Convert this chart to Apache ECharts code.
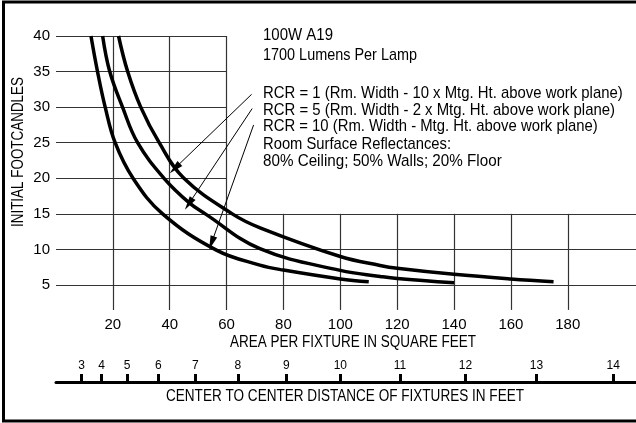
<!DOCTYPE html>
<html>
<head>
<meta charset="utf-8">
<script src="https://cdn.jsdelivr.net/npm/echarts@6/dist/echarts.min.js"></script>
<style>html,body{margin:0;padding:0;background:#fff;}#c{width:636px;height:423px;}</style>
</head>
<body>
<div id="c"></div>
<script>
// ---- data ----
var areaTicks = [20, 40, 60, 80, 100, 120, 140, 160, 180];
var fcTicks = [5, 10, 15, 20, 25, 30, 35, 40];
var distanceTicks = [3, 4, 5, 6, 7, 8, 9, 10, 11, 12, 13, 14];
var hGridFull = [5, 10, 15];
var hGridShort = [20, 25, 30, 35, 40];
var vGridTall = [20, 40, 60];
var vGridShort = [80, 100, 120, 140, 160, 180];

var rcr1 = [[22,40],[25.2,35],[29.8,30],[36.3,25],[45,20],[62,15],[72,13],[100,9.0],[114,7.75],[120,7.35],[140,6.5],[160,5.85],[175,5.47]];
var rcr5 = [[16.4,40],[18.9,35],[23.4,30],[28.7,25],[38,20],[47,16.5],[52.5,15],[71.7,10.1],[100,7.05],[114,6.2],[120,5.9],[140,5.3]];
var rcr10 = [[12.3,40],[14.6,35],[17.3,30],[20.8,25],[27.1,20],[37.5,15],[56.4,9.9],[71.7,7.8],[80,7.1],[100,5.85],[110,5.45]];

var notes = [
  '100W A19',
  '1700 Lumens Per Lamp',
  'RCR = 1 (Rm. Width - 10 x Mtg. Ht. above work plane)',
  'RCR = 5 (Rm. Width - 2 x Mtg. Ht. above work plane)',
  'RCR = 10 (Rm. Width - Mtg. Ht. above work plane)',
  'Room Surface Reflectances:',
  '80% Ceiling; 50% Walls; 20% Floor'
];
var arrows = [
  [[68.8, 31.8], [41.8, 21.4]],
  [[69.0, 29.8], [46.7, 16.4]],
  [[69.5, 27.5], [54.7, 10.9]]
];

// ---- layout (pixels) ----
var noteY = [35, 55, 93, 110, 126.5, 144.5, 161.5];
var noteW = [70, 154, 359.7, 352, 334.7, 188, 238.7];

var FONT = '"Liberation Sans", Arial, Helvetica, sans-serif';
var X_MIN = 0, X_MAX = 204, Y_MIN = 1.5, Y_MAX = 40;

var mctx = document.createElement('canvas').getContext('2d');
function fit(text, font, target) { mctx.font = font; return target / mctx.measureText(text).width; }

var gridLines = [];
hGridFull.forEach(function (y) { gridLines.push([{coord: [X_MIN, y]}, {coord: [X_MAX, y]}]); });
hGridShort.forEach(function (y) { gridLines.push([{coord: [X_MIN, y]}, {coord: [60, y]}]); });
vGridTall.forEach(function (x) { gridLines.push([{coord: [x, Y_MIN]}, {coord: [x, Y_MAX]}]); });
vGridShort.forEach(function (x) { gridLines.push([{coord: [x, Y_MIN]}, {coord: [x, 15]}]); });

var arrowLines = arrows.map(function (a) { return [{coord: a[0]}, {coord: a[1]}]; });

function curve(name, data) {
  return {
    name: name, type: 'line', data: data, smooth: 0.4,
    symbol: 'none', lineStyle: {color: '#000', width: 3.5}, silent: true, z: 5
  };
}

function fitText(t, x, y, size, target, align, rot) {
  var font = size + 'px ' + FONT;
  return {type: 'text', x: x, y: y, rotation: rot || 0, scaleX: fit(t, font, target), silent: true,
    style: {text: t, font: font, fill: '#000', align: align, verticalAlign: 'middle'}};
}

var graphics = [
  {type: 'rect', shape: {x: 3.5, y: 2, width: 700, height: 419}, style: {fill: null, stroke: '#000', lineWidth: 3}, silent: true},
  fitText('INITIAL FOOTCANDLES', 19, 152, 16, 150, 'center', Math.PI / 2),
  fitText('AREA PER FIXTURE IN SQUARE FEET', 353, 342.7, 16, 246, 'center'),
  fitText('CENTER TO CENTER DISTANCE OF FIXTURES IN FEET', 345, 396.7, 16, 358, 'center')
];
notes.forEach(function (t, i) {
  graphics.push(fitText(t, 263, noteY[i], 17, noteW[i], 'left'));
});

var chart = echarts.init(document.getElementById('c'), null, {renderer: 'canvas'});
chart.setOption({
  animation: false,
  backgroundColor: '#fff',
  textStyle: {fontFamily: FONT},
  grid: {left: 56, top: 36, width: 580.5, height: 273.9, containLabel: false},
  xAxis: [
    {
      type: 'value', min: X_MIN, max: X_MAX,
      axisLine: {show: false}, axisTick: {show: false}, splitLine: {show: false},
      axisLabel: {customValues: areaTicks, margin: 7, fontSize: 15, color: '#000', fontFamily: FONT}
    },
    {
      type: 'value', min: X_MIN, max: X_MAX, position: 'bottom', offset: 72,
      axisLine: {show: true, lineStyle: {color: '#000', width: 3}},
      axisTick: {show: true, inside: true, length: 8, lineStyle: {color: '#000', width: 3},
        customValues: distanceTicks.map(function (d) { return d * d; })},
      axisLabel: {show: true, inside: true, margin: 10, fontSize: 12, color: '#000', fontFamily: FONT,
        customValues: distanceTicks.map(function (d) { return d * d; }),
        formatter: function (v) { return String(Math.round(Math.sqrt(v))); }},
      splitLine: {show: false}
    }
  ],
  yAxis: {
    type: 'value', min: Y_MIN, max: Y_MAX,
    axisLine: {show: false}, axisTick: {show: false}, splitLine: {show: false},
    axisLabel: {customValues: fcTicks, margin: 6, fontSize: 15, color: '#000', fontFamily: FONT}
  },
  series: [
    {
      type: 'line', data: [], silent: true, z: 1,
      markLine: {silent: true, symbol: ['none', 'none'], animation: false, label: {show: false},
        lineStyle: {color: '#333', width: 1.2, type: 'solid'}, emphasis: {disabled: true}, data: gridLines}
    },
    {
      type: 'line', data: [], silent: true, z: 6,
      markLine: {silent: true, symbol: ['none', 'triangle'], symbolSize: [7, 14], animation: false, label: {show: false},
        lineStyle: {color: '#000', width: 1, type: 'solid'}, itemStyle: {color: '#000'}, emphasis: {disabled: true}, data: arrowLines}
    },
    curve('RCR = 1', rcr1),
    curve('RCR = 5', rcr5),
    curve('RCR = 10', rcr10)
  ],
  graphic: graphics
});
</script>
</body>
</html>
